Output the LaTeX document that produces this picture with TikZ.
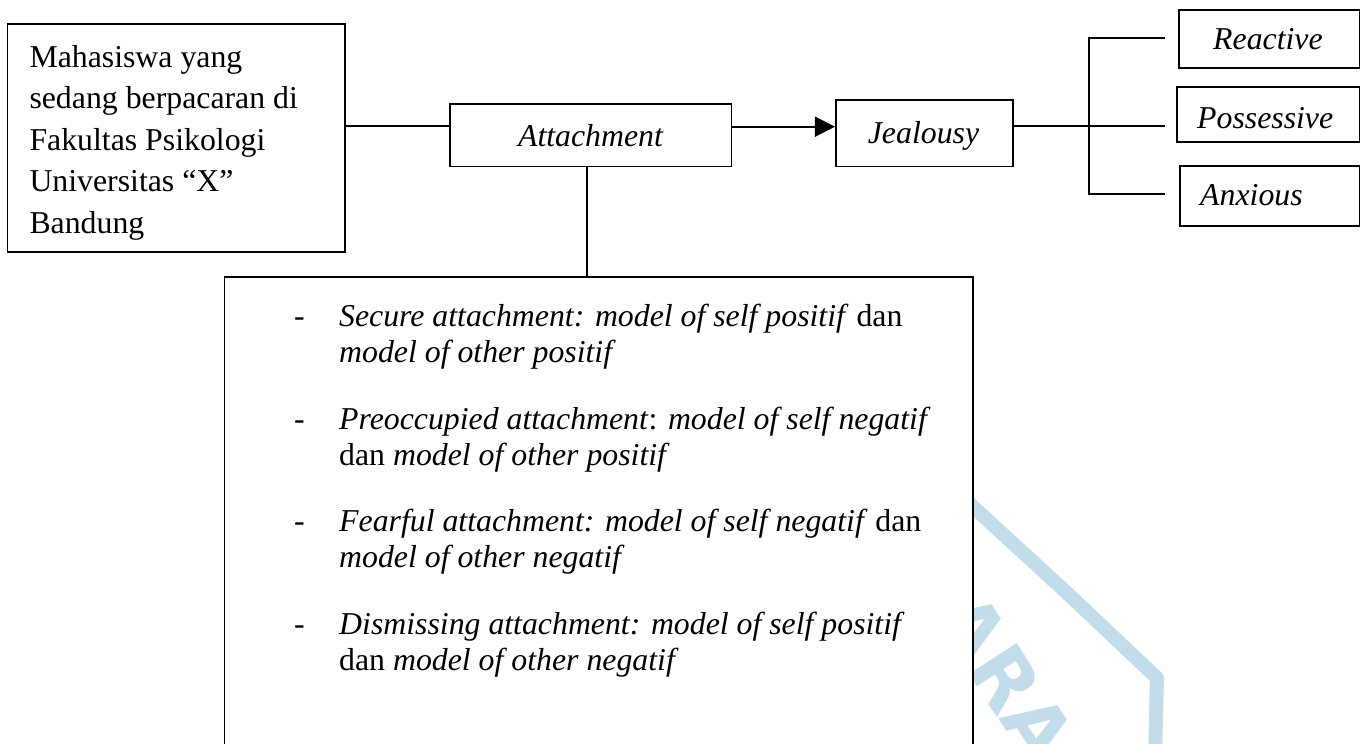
\documentclass[tikz,border=0pt]{standalone}
\usepackage{fontspec}
\setmainfont{Liberation Serif}
\newfontfamily\wmfont{DejaVu Sans}
\usetikzlibrary{arrows.meta}
\definecolor{wm}{RGB}{195,220,234}
\newcommand\dgsize{\fontsize{31.8}{38}\selectfont}
\begin{document}
\begin{tikzpicture}[x=1pt,y=-1pt,
  box/.style={draw, line width=1.6pt, fill=white, inner sep=0pt},
  txt/.style={font=\dgsize, anchor=base west, inner sep=0pt},
  ctxt/.style={font=\dgsize, anchor=base, inner sep=0pt},
  link/.style={line width=1.6pt},
  mark wm/.style={wm, font=\wmfont\bfseries\fontsize{78}{78}\selectfont, inner sep=0pt}]
\useasboundingbox (0,0) rectangle (1361,744);
\clip (0,0) rectangle (1361,744);
\fill[white] (0,0) rectangle (1361,744);
% watermark
\draw[wm, line width=14pt, line join=round] (940,476.5) -- (1066,592) -- (1157,678) -- (1155,760);
\node[mark wm, rotate=-57] (wmtext) at (1006,678) {ARA};
% boxes
\node[box, minimum width=337.7pt, minimum height=228pt] (subj) at (176.2,138) {};
\node[box, minimum width=281.7pt, minimum height=62.7pt] (att) at (590.8,135.3) {};
\node[box, minimum width=177.3pt, minimum height=66.7pt] (jeal) at (924.4,133.3) {};
\node[box, minimum width=180.5pt, minimum height=58pt] (react) at (1269.25,39) {};
\node[box, minimum width=182.5pt, minimum height=55pt] (poss) at (1268.25,114.5) {};
\node[box, minimum width=179.5pt, minimum height=60pt] (anx) at (1269.75,196) {};
\node[box, minimum width=748.4pt, minimum height=523.3pt] (bul) at (598.5,538.35) {};
% connectors
\coordinate (y1) at (0,126);
\coordinate (y2) at (0,126.7);
\coordinate (vx) at (586.7,0);
\coordinate (br) at (1089,126);
\coordinate (brT) at (1089,38);
\coordinate (brB) at (1089,194);
\coordinate (eR) at (1165,38);
\coordinate (eP) at (1165,126);
\coordinate (eA) at (1165,194);
\draw[link] (subj.east |- y1) -- (att.west |- y1);
\draw[link, -{Triangle[length=20pt,width=20pt]}] (att.east |- y2) -- (jeal.west |- y2);
\draw[link] (att.south -| vx) -- (bul.north -| vx);
\draw[line width=2.4pt] (jeal.east |- br) -- (br);
\draw[link] (eR) -- (brT) -- (brB) -- (eA);
\draw[link] (br) -- (eP);
% texts
\node[txt] (s1) at (29.3,67) {Mahasiswa yang};
\node[txt] (s2) at (29.3,108.5) {sedang berpacaran di};
\node[txt] (s3) at (29.3,150) {Fakultas Psikologi};
\node[txt] (s4) at (29.3,191.5) {Universitas “X”};
\node[txt] (s5) at (29.3,233) {Bandung};
\node[ctxt] (attl) at (590.8,146) {\textit{Attachment}};
\node[ctxt] (jeall) at (923.5,143) {\textit{Jealousy}};
\node[txt] (reactl) at (1213,49) {\textit{Reactive}};
\node[txt] (possl) at (1197,128) {\textit{Possessive}};
\node[txt] (anxl) at (1200,205.5) {\textit{Anxious}};
\node[txt] (d1) at (294,326) {-};
\node[txt] (b1a) at (339,326) {\textit{Secure attachment: model of self positif} dan};
\node[txt] (b1b) at (339,362) {\textit{model of other positif}};
\node[txt] (d2) at (294,429) {-};
\node[txt] (b2a) at (339,429) {\textit{Preoccupied attachment}: \textit{model of self negatif}};
\node[txt] (b2b) at (339,465) {dan \textit{model of other positif}};
\node[txt] (d3) at (294,531.5) {-};
\node[txt] (b3a) at (339,531.5) {\textit{Fearful attachment: model of self negatif} dan};
\node[txt] (b3b) at (339,567.5) {\textit{model of other negatif}};
\node[txt] (d4) at (294,634) {-};
\node[txt] (b4a) at (339,634) {\textit{Dismissing attachment: model of self positif}};
\node[txt] (b4b) at (339,670) {dan \textit{model of other negatif}};
\end{tikzpicture}
\end{document}
